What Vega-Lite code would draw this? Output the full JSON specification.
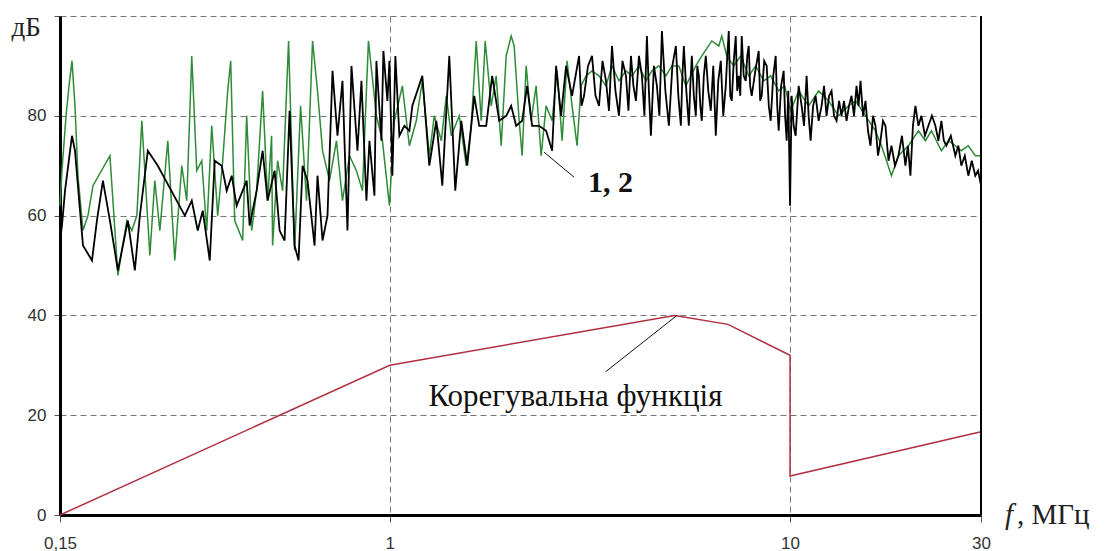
{
  "$schema": "https://vega.github.io/schema/vega-lite/v6.json",
  "width": 921,
  "height": 499,
  "autosize": "none",
  "padding": {"left": 60, "top": 16, "right": 128, "bottom": 36},
  "background": "white",
  "config": {"view": {"stroke": null}, "font": "Liberation Sans"},
  "datasets": {
    "s2": [
      {"f":0.15,"db":62},{"f":0.1517,"db":69},{"f":0.1553,"db":80},{"f":0.158,"db":86},{"f":0.1607,"db":91},{"f":0.1635,"db":82},{"f":0.1663,"db":68},{"f":0.1712,"db":57},{"f":0.1762,"db":60},{"f":0.1813,"db":66},{"f":0.1999,"db":72},{"f":0.2093,"db":48},{"f":0.2141,"db":53},{"f":0.2204,"db":59},{"f":0.2268,"db":57},{"f":0.2334,"db":60},{"f":0.2402,"db":79},{"f":0.2515,"db":52},{"f":0.2588,"db":67},{"f":0.2664,"db":57},{"f":0.2789,"db":75},{"f":0.2903,"db":51},{"f":0.3022,"db":70},{"f":0.311,"db":63},{"f":0.3201,"db":92},{"f":0.3294,"db":69},{"f":0.339,"db":71},{"f":0.3489,"db":57},{"f":0.3591,"db":78},{"f":0.3716,"db":60},{"f":0.3825,"db":71},{"f":0.3936,"db":85},{"f":0.4005,"db":91},{"f":0.4098,"db":59},{"f":0.429,"db":55},{"f":0.439,"db":80},{"f":0.4518,"db":57},{"f":0.4649,"db":65},{"f":0.4812,"db":85},{"f":0.4952,"db":63},{"f":0.5067,"db":76},{"f":0.5096,"db":54},{"f":0.5245,"db":71},{"f":0.5398,"db":65},{"f":0.5587,"db":95},{"f":0.5783,"db":53},{"f":0.5986,"db":82},{"f":0.6195,"db":63},{"f":0.6413,"db":95},{"f":0.6599,"db":85},{"f":0.6792,"db":73},{"f":0.707,"db":67},{"f":0.736,"db":75},{"f":0.7618,"db":63},{"f":0.7931,"db":72},{"f":0.8256,"db":69},{"f":0.8545,"db":65},{"f":0.8844,"db":95},{"f":0.926,"db":80},{"f":0.9585,"db":75},{"f":0.998,"db":62},{"f":1.0269,"db":79},{"f":1.0751,"db":86},{"f":1.1192,"db":74},{"f":1.1651,"db":79},{"f":1.206,"db":87},{"f":1.2554,"db":72},{"f":1.292,"db":80},{"f":1.345,"db":75},{"f":1.3842,"db":84},{"f":1.4245,"db":76},{"f":1.4914,"db":80},{"f":1.5526,"db":70},{"f":1.5979,"db":78},{"f":1.6444,"db":95},{"f":1.6922,"db":79},{"f":1.7315,"db":95},{"f":1.7923,"db":82},{"f":1.8445,"db":88},{"f":1.8982,"db":74},{"f":1.9535,"db":92},{"f":2.0105,"db":96},{"f":2.0454,"db":94},{"f":2.105,"db":79},{"f":2.1415,"db":72},{"f":2.1913,"db":90},{"f":2.2551,"db":79},{"f":2.3208,"db":86},{"f":2.3885,"db":72},{"f":2.458,"db":82},{"f":2.5443,"db":79},{"f":2.6183,"db":89},{"f":2.6946,"db":75},{"f":2.7731,"db":91},{"f":2.8539,"db":82},{"f":2.937,"db":74},{"f":3.0053,"db":86},{"f":3.0928,"db":88},{"f":3.2009,"db":89},{"f":3.3323,"db":88},{"f":3.4689,"db":86},{"f":3.5906,"db":90},{"f":3.7379,"db":87},{"f":3.8912,"db":89},{"f":4.0276,"db":88},{"f":4.1928,"db":90},{"f":4.3647,"db":87},{"f":4.5178,"db":89},{"f":4.703,"db":90},{"f":4.8959,"db":88},{"f":5.0676,"db":90},{"f":5.2755,"db":90},{"f":5.4918,"db":86},{"f":5.8161,"db":90},{"f":6.0201,"db":92},{"f":6.3759,"db":95},{"f":6.6374,"db":94},{"f":6.7527,"db":96},{"f":6.9494,"db":92},{"f":7.2344,"db":90},{"f":7.5313,"db":92},{"f":7.8853,"db":88},{"f":8.2087,"db":90},{"f":8.5947,"db":87},{"f":8.9472,"db":88},{"f":9.3678,"db":85},{"f":9.6962,"db":86},{"f":10.036,"db":81},{"f":10.507,"db":85},{"f":11.128,"db":82},{"f":11.786,"db":85},{"f":12.483,"db":83},{"f":13.22,"db":80},{"f":14.002,"db":82},{"f":14.576,"db":83},{"f":15.437,"db":80},{"f":16.35,"db":77},{"f":16.922,"db":74},{"f":17.923,"db":68},{"f":18.658,"db":72},{"f":19.761,"db":74},{"f":20.929,"db":77},{"f":21.787,"db":75},{"f":22.551,"db":77},{"f":23.885,"db":73},{"f":24.864,"db":75},{"f":25.884,"db":74},{"f":26.792,"db":73},{"f":27.89,"db":74},{"f":29.034,"db":72},{"f":30,"db":72}
    ],
    "s1": [
      {"f":0.15,"db":55},{"f":0.1517,"db":58},{"f":0.1544,"db":65},{"f":0.1607,"db":76},{"f":0.1635,"db":73},{"f":0.1683,"db":61},{"f":0.1712,"db":54},{"f":0.1803,"db":51},{"f":0.1855,"db":59},{"f":0.192,"db":67},{"f":0.1999,"db":59},{"f":0.2093,"db":49},{"f":0.2154,"db":54},{"f":0.2216,"db":59},{"f":0.2307,"db":49},{"f":0.2375,"db":60},{"f":0.2486,"db":73},{"f":0.2633,"db":70},{"f":0.3075,"db":60},{"f":0.3201,"db":63},{"f":0.3313,"db":57},{"f":0.341,"db":61},{"f":0.355,"db":51},{"f":0.3653,"db":71},{"f":0.3803,"db":70},{"f":0.3914,"db":65},{"f":0.4028,"db":68},{"f":0.4145,"db":62},{"f":0.439,"db":67},{"f":0.4466,"db":58},{"f":0.4649,"db":65},{"f":0.4812,"db":73},{"f":0.4952,"db":63},{"f":0.5155,"db":69},{"f":0.5306,"db":57},{"f":0.546,"db":55},{"f":0.5619,"db":81},{"f":0.5783,"db":54},{"f":0.5917,"db":51},{"f":0.6055,"db":70},{"f":0.6231,"db":67},{"f":0.6487,"db":54},{"f":0.6599,"db":68},{"f":0.6792,"db":55},{"f":0.6989,"db":60},{"f":0.7193,"db":89},{"f":0.7402,"db":76},{"f":0.7618,"db":87},{"f":0.784,"db":57},{"f":0.8022,"db":90},{"f":0.8303,"db":73},{"f":0.8496,"db":87},{"f":0.8743,"db":63},{"f":0.8895,"db":75},{"f":0.9155,"db":64},{"f":0.926,"db":91},{"f":0.953,"db":75},{"f":0.964,"db":93},{"f":0.9864,"db":83},{"f":0.998,"db":91},{"f":1.0151,"db":68},{"f":1.0328,"db":92},{"f":1.0568,"db":76},{"f":1.0876,"db":78},{"f":1.1192,"db":77},{"f":1.1387,"db":82},{"f":1.206,"db":88},{"f":1.2554,"db":70},{"f":1.3069,"db":79},{"f":1.3528,"db":66},{"f":1.4082,"db":92},{"f":1.4576,"db":65},{"f":1.5086,"db":79},{"f":1.5615,"db":70},{"f":1.6256,"db":84},{"f":1.6729,"db":78},{"f":1.7415,"db":78},{"f":1.8026,"db":88},{"f":1.8766,"db":79},{"f":1.9535,"db":80},{"f":2.0105,"db":82},{"f":2.069,"db":78},{"f":2.1415,"db":79},{"f":2.2039,"db":86},{"f":2.2681,"db":78},{"f":2.3612,"db":78},{"f":2.458,"db":77},{"f":2.5443,"db":73},{"f":2.6033,"db":90},{"f":2.6792,"db":80},{"f":2.7572,"db":90},{"f":2.8539,"db":84},{"f":2.971,"db":92},
      {"f":3.014,"db":82},{"f":3.0575,"db":84},{"f":3.128,"db":90},{"f":3.2009,"db":92},{"f":3.266,"db":84},{"f":3.3323,"db":82},{"f":3.4,"db":91},{"f":3.4689,"db":87},{"f":3.529,"db":81},{"f":3.5906,"db":94},{"f":3.663,"db":85},{"f":3.7379,"db":80},{"f":3.814,"db":91},{"f":3.8912,"db":88},{"f":3.947,"db":81},{"f":4.0045,"db":92},{"f":4.062,"db":86},{"f":4.1211,"db":83},{"f":4.193,"db":92},{"f":4.2656,"db":88},{"f":4.327,"db":80},{"f":4.3899,"db":96},{"f":4.44,"db":85},{"f":4.4919,"db":76},{"f":4.57,"db":90},{"f":4.6494,"db":86},{"f":4.717,"db":80},{"f":4.7849,"db":97},{"f":4.882,"db":85},{"f":4.981,"db":78},{"f":5.082,"db":90},{"f":5.1853,"db":94},{"f":5.26,"db":84},{"f":5.3364,"db":78},{"f":5.383,"db":88},{"f":5.4291,"db":94},{"f":5.507,"db":85},{"f":5.587,"db":78},{"f":5.635,"db":86},{"f":5.6841,"db":92},{"f":5.75,"db":84},{"f":5.8161,"db":80},{"f":5.866,"db":90},{"f":5.9173,"db":88},{"f":5.968,"db":82},{"f":6.0201,"db":79},{"f":6.09,"db":88},{"f":6.1599,"db":92},{"f":6.249,"db":85},{"f":6.3394,"db":81},{"f":6.43,"db":90},{"f":6.524,"db":76},{"f":6.618,"db":87},{"f":6.714,"db":91},{"f":6.81,"db":80},{"f":6.9096,"db":86},{"f":6.97,"db":92},{"f":7.0297,"db":97},{"f":7.09,"db":84},{"f":7.1519,"db":83},{"f":7.235,"db":91},{"f":7.318,"db":96},{"f":7.38,"db":85},{"f":7.4453,"db":88},{"f":7.51,"db":84},{"f":7.5747,"db":96},{"f":7.66,"db":88},{"f":7.7506,"db":87},{"f":7.82,"db":92},{"f":7.8853,"db":94},{"f":7.95,"db":86},{"f":8.0224,"db":84},{"f":8.19,"db":89},{"f":8.3514,"db":93},{"f":8.42,"db":83},{"f":8.4965,"db":84},{"f":8.62,"db":91},{"f":8.744,"db":90},{"f":8.85,"db":82},{"f":8.9472,"db":79},{"f":9.08,"db":88},{"f":9.2077,"db":92},{"f":9.29,"db":82},{"f":9.3678,"db":77},{"f":9.5,"db":86},{"f":9.6407,"db":89},{"f":9.72,"db":80},{"f":9.8082,"db":75},{"f":9.9,"db":85},{"f":10.0,"db":62},
      {"f":10.093,"db":84},{"f":10.21,"db":78},{"f":10.328,"db":76},{"f":10.51,"db":86},{"f":10.69,"db":82},{"f":10.84,"db":78},{"f":11.001,"db":88},{"f":11.13,"db":80},{"f":11.257,"db":75},{"f":11.42,"db":82},{"f":11.585,"db":84},{"f":11.79,"db":79},{"f":11.991,"db":82},{"f":12.16,"db":86},{"f":12.34,"db":80},{"f":12.52,"db":84},{"f":12.699,"db":85},{"f":12.88,"db":80},{"f":13.069,"db":79},{"f":13.26,"db":83},{"f":13.45,"db":80},{"f":13.64,"db":83},{"f":13.842,"db":79},{"f":14.04,"db":82},{"f":14.245,"db":84},{"f":14.45,"db":80},{"f":14.66,"db":86},{"f":14.83,"db":82},{"f":15.0,"db":87},{"f":15.22,"db":80},{"f":15.437,"db":83},{"f":15.66,"db":77},{"f":15.887,"db":74},{"f":16.12,"db":80},{"f":16.35,"db":78},{"f":16.59,"db":72},{"f":16.826,"db":75},{"f":17.07,"db":79},{"f":17.315,"db":78},{"f":17.62,"db":71},{"f":17.923,"db":74},{"f":18.29,"db":70},{"f":18.658,"db":72},{"f":19.04,"db":76},{"f":19.423,"db":70},{"f":19.7,"db":74},{"f":19.99,"db":68},{"f":20.28,"db":78},{"f":20.572,"db":82},{"f":20.93,"db":78},{"f":21.293,"db":80},{"f":21.73,"db":76},{"f":22.166,"db":78},{"f":22.62,"db":80},{"f":23.075,"db":78},{"f":23.48,"db":75},{"f":23.885,"db":79},{"f":24.23,"db":75},{"f":24.58,"db":74},{"f":25.22,"db":76},{"f":25.884,"db":72},{"f":26.33,"db":74},{"f":26.792,"db":70},{"f":27.33,"db":72},{"f":27.89,"db":68},{"f":28.45,"db":71},{"f":29.034,"db":68},{"f":29.5,"db":69},{"f":30,"db":66}
    ],
    "corr": [
      {"i":0,"f":0.15,"db":0},{"i":1,"f":1,"db":30},{"i":2,"f":5.15,"db":40},{"i":3,"f":7.0,"db":38.2},{"i":4,"f":10,"db":32},{"i":5,"f":10,"db":7.8},{"i":6,"f":30,"db":16.7}
    ],
    "border": [{"f":30,"db":0,"db2":100}],
    "leaders": [
      {"f":2.43,"db":72.7,"f2":2.887,"db2":67.7},
      {"f":3.46,"db":28.7,"f2":5.22,"db2":40}
    ],
    "labels": [
      {"f":2.91,"db":21.8,"t":"Корегувальна функція"}
    ],
    "labels12": [
      {"f":3.56,"db":64.7,"t":"1, 2"}
    ],
    "unitF": [{"f":30,"db":0,"t":"f"}],
    "unitRest": [{"f":30,"db":0,"t":", МГц"}]
  },
  "encoding": {
    "x": {
      "field": "f",
      "type": "quantitative",
      "scale": {"type": "log", "domain": [0.15, 30], "nice": false},
      "axis": {
        "values": [0.15, 1, 10, 30],
        "labelExpr": "datum.value < 0.5 ? '0,15' : format(datum.value, 'd')",
        "title": null,
        "grid": true,
        "gridDash": [6, 4],
        "gridColor": "#777777",
        "gridWidth": 1,
        "domainColor": "#000000",
        "domainWidth": 3,
        "tickColor": "#555555",
        "tickSize": 7,
        "labelFontSize": 17,
        "labelColor": "#333333",
        "labelPadding": 13,
        "labelFlush": false,
        "labelOverlap": false,
        "labelFont": "Liberation Sans"
      }
    },
    "y": {
      "field": "db",
      "type": "quantitative",
      "scale": {"domain": [0, 100], "nice": false},
      "axis": {
        "values": [0, 20, 40, 60, 80, 100],
        "labelExpr": "datum.value == 100 ? '' : format(datum.value, 'd')",
        "title": "дБ",
        "titleAngle": 0,
        "titleAlign": "left",
        "titleBaseline": "alphabetic",
        "titleX": -49,
        "titleY": 19,
        "titleFont": "Liberation Serif",
        "titleFontSize": 27,
        "titleFontWeight": "normal",
        "titleColor": "#222222",
        "grid": true,
        "gridDash": [6, 4],
        "gridColor": "#777777",
        "gridWidth": 1,
        "domainColor": "#000000",
        "domainWidth": 3,
        "tickColor": "#555555",
        "tickSize": 6,
        "labelFontSize": 17,
        "labelColor": "#333333",
        "labelPadding": 8,
        "labelFont": "Liberation Sans"
      }
    }
  },
  "layer": [
    {"data": {"name": "s2"}, "mark": {"type": "line", "color": "#2e8b37", "strokeWidth": 1.5}},
    {"data": {"name": "s1"}, "mark": {"type": "line", "color": "#000000", "strokeWidth": 1.8}},
    {"data": {"name": "corr"}, "mark": {"type": "line", "color": "#b03040", "strokeWidth": 1.5}, "encoding": {"order": {"field": "i", "type": "quantitative"}}},
    {"data": {"name": "border"}, "mark": {"type": "rule", "color": "#000000", "strokeWidth": 2}, "encoding": {"y2": {"field": "db2"}}},
    {"data": {"name": "leaders"}, "mark": {"type": "rule", "color": "#111111", "strokeWidth": 1}, "encoding": {"x2": {"field": "f2"}, "y2": {"field": "db2"}}},
    {"data": {"name": "labels"}, "mark": {"type": "text", "font": "Liberation Serif", "fontSize": 31, "align": "center", "baseline": "alphabetic", "color": "#111111"}, "encoding": {"text": {"field": "t"}}},
    {"data": {"name": "labels12"}, "mark": {"type": "text", "font": "Liberation Serif", "fontSize": 30, "fontWeight": "bold", "align": "center", "baseline": "alphabetic", "color": "#111111"}, "encoding": {"text": {"field": "t"}}},
    {"data": {"name": "unitF"}, "mark": {"type": "text", "font": "Liberation Serif", "fontSize": 29, "fontStyle": "italic", "align": "left", "baseline": "alphabetic", "dx": 24, "dy": 9, "color": "#222222"}, "encoding": {"text": {"field": "t"}}},
    {"data": {"name": "unitRest"}, "mark": {"type": "text", "font": "Liberation Serif", "fontSize": 29, "align": "left", "baseline": "alphabetic", "dx": 36, "dy": 9, "color": "#222222"}, "encoding": {"text": {"field": "t"}}}
  ]
}
